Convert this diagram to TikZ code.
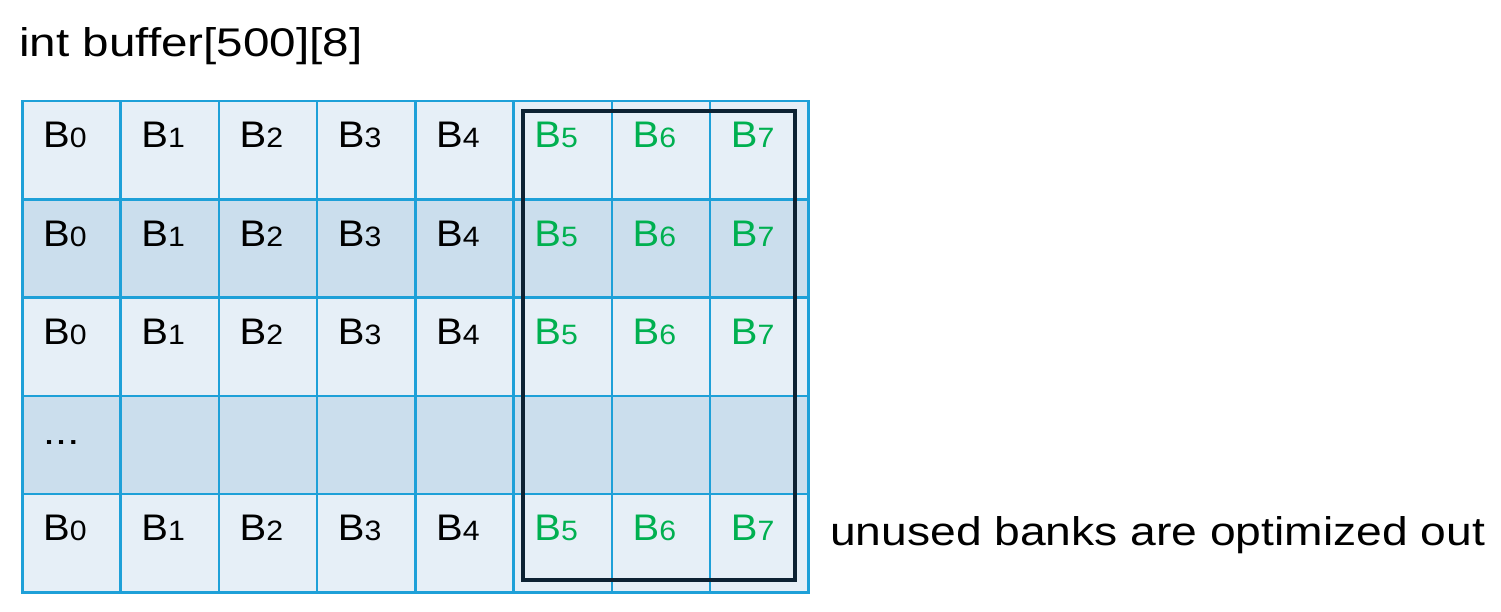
\documentclass[tikz,border=0pt]{standalone}
\usepackage{fontspec}
\setmainfont{Liberation Sans}
\definecolor{gridblue}{HTML}{1EA0D8}
\definecolor{lightcell}{HTML}{E6EFF7}
\definecolor{darkcell}{HTML}{CBDEED}
\definecolor{bankgreen}{HTML}{00B050}
\definecolor{navy}{HTML}{0D2233}
\tikzset{
  cellbox/.style={draw=gridblue, line width=2.5pt, minimum width=98.25pt, minimum height=98.2pt, inner sep=0pt, anchor=north west},
  banklbl/.style={anchor=base west, inner sep=0pt, font=\fontsize{37}{40}\selectfont},
  sidelbl/.style={anchor=base west, inner sep=0pt, font=\fontsize{40}{46}\selectfont, text=black},
}
\newcommand{\bk}[1]{\scalebox{1.08}[1]{B{\fontsize{28}{30}\selectfont #1}}}
\newcommand{\wide}[2][1.17]{\scalebox{#1}[1]{#2}}
\begin{document}
\begin{tikzpicture}[x=1pt,y=-1pt]
\useasboundingbox (0,0) rectangle (1501,612);
% cells
\foreach \r in {0,...,4}{
  \pgfmathsetmacro{\yy}{100+98.2*\r}
  \pgfmathtruncatemacro{\odd}{mod(\r,2)}
  \foreach \c in {0,...,7}{
    \pgfmathsetmacro{\xx}{21+98.25*\c}
    \ifnum\odd=1
      \node[cellbox, fill=darkcell] (c\r\c) at (\xx,\yy) {};
    \else
      \node[cellbox, fill=lightcell] (c\r\c) at (\xx,\yy) {};
    \fi
  }
}
% labels
\foreach \r in {0,1,2,4}{
  \foreach \c in {0,...,4}{
    \node[banklbl, text=black] (l\r\c) at ([xshift=22pt,yshift=-48pt]c\r\c.north west) {\bk{\c}};
  }
  \foreach \c in {5,6,7}{
    \node[banklbl, text=bankgreen] (l\r\c) at ([xshift=22pt,yshift=-48pt]c\r\c.north west) {\bk{\c}};
  }
}
\node[banklbl, text=black] (dots) at ([xshift=22pt,yshift=-50pt]c30.north west) {\wide{...}};
% highlight rectangle
\coordinate (hlA) at (523,111);
\coordinate (hlB) at (795,580);
\draw[navy, line width=4pt] (hlA) rectangle (hlB);
% title and note
\node[sidelbl] (title) at (19,57) {\wide[1.19]{int buffer[500][8]}};
\node[sidelbl] (note) at (830,545) {\wide[1.155]{unused banks are optimized out}};
\end{tikzpicture}
\end{document}
